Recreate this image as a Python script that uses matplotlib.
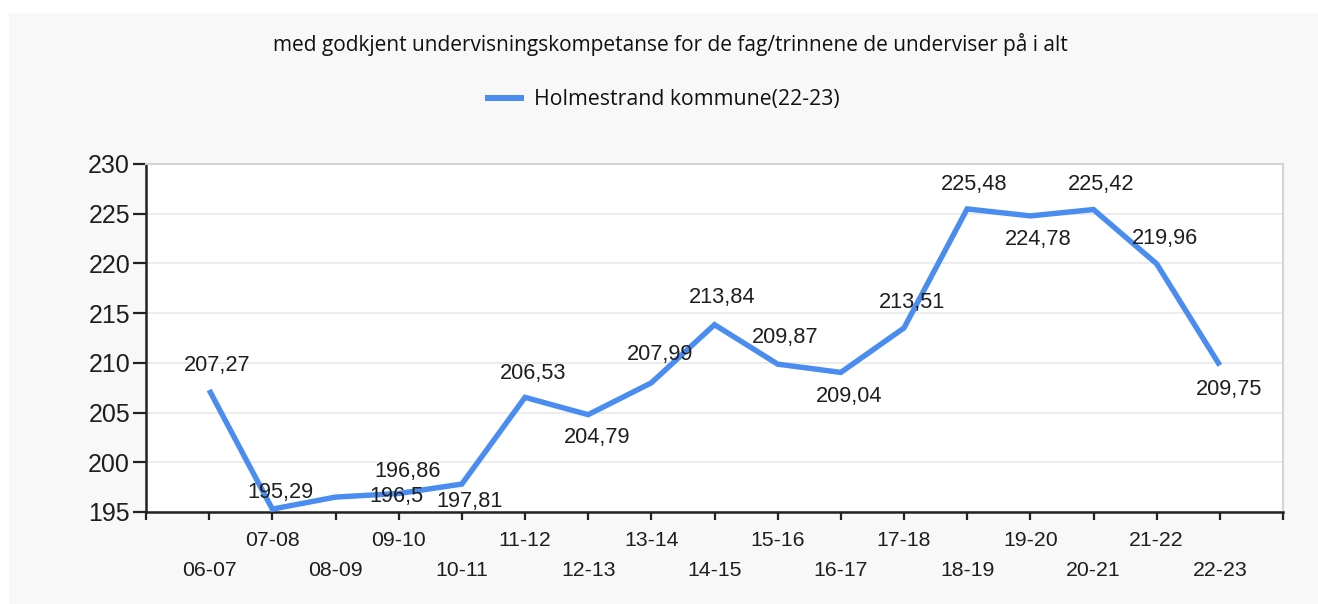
import matplotlib
matplotlib.use("Agg")
import matplotlib.pyplot as plt
from matplotlib.patches import Rectangle
import matplotlib.transforms as mtrans

# ---- data ----
categories = ["06-07", "07-08", "08-09", "09-10", "10-11", "11-12", "12-13",
              "13-14", "14-15", "15-16", "16-17", "17-18", "18-19", "19-20",
              "20-21", "21-22", "22-23"]
values = [207.27, 195.29, 196.5, 196.86, 197.81, 206.53, 204.79, 207.99,
          213.84, 209.87, 209.04, 213.51, 225.48, 224.78, 225.42, 219.96, 209.75]
value_labels = ["207,27", "195,29", "196,5", "196,86", "197,81", "206,53",
                "204,79", "207,99", "213,84", "209,87", "209,04", "213,51",
                "225,48", "224,78", "225,42", "219,96", "209,75"]
series_name = "Holmestrand kommune(22-23)"
title = "med godkjent undervisningskompetanse for de fag/trinnene de underviser på i alt"
yticks = [195, 200, 205, 210, 215, 220, 225, 230]

# label placement offsets in pixels (dx, dy) relative to each point
label_offsets = [(8, 25), (8, 17), (61, 1), (9, 22), (8, -17), (8, 24),
                 (9, -23), (9, 28), (8, 27), (8, 27), (8, -24), (8, 25),
                 (7, 24), (8, -24), (8, 25), (8, 25), (9, -24)]

line_color = "#4a8cf0"
text_color = "#1e1e1e"
W, H = 1318, 604

fig = plt.figure(figsize=(W / 100, H / 100), dpi=100, facecolor="white")
fig.patches.append(Rectangle((9 / W, 0), 1 - 9 / W, 1 - 13 / H,
                             transform=fig.transFigure, facecolor="#f8f8f8",
                             edgecolor="none", zorder=-10))

ax = fig.add_axes([146 / W, 1 - 512 / H, (1283 - 146) / W, (512 - 164) / H])
ax.set_facecolor("white")
x = list(range(len(categories)))
ax.plot(x, values, color=line_color, lw=3.9, solid_joinstyle="miter",
        solid_capstyle="butt", zorder=3, label=series_name)

ax.set_xlim(-1, len(categories))
ax.set_ylim(195, 230)
ax.set_yticks(yticks)
ax.set_yticklabels([str(v) for v in yticks], fontsize=18,
                   family="Liberation Sans", color=text_color)
ax.set_xticks(range(-1, len(categories) + 1))
ax.set_xticklabels([])
ax.tick_params(axis="y", length=9.5, width=1.6, color="#222222", pad=2)
ax.tick_params(axis="x", length=5.5, width=1.6, color="#222222")
ax.grid(axis="y", color="#e9e9e9", lw=1.2, zorder=0)
for s in ["left", "bottom"]:
    ax.spines[s].set_color("#222222")
    ax.spines[s].set_linewidth(1.8)
for s in ["top", "right"]:
    ax.spines[s].set_color("#d4d4d4")
    ax.spines[s].set_linewidth(1.5)

# category labels in two staggered rows
blend = mtrans.blended_transform_factory(ax.transData, ax.transAxes)
for i, c in enumerate(categories):
    dy = -28 if i % 2 == 1 else -59
    off = mtrans.ScaledTranslation(0, dy / 100, fig.dpi_scale_trans)
    ax.text(i, 0, c, transform=blend + off, ha="center", va="center",
            fontsize=15.3, family="Liberation Sans", color=text_color)

# value labels
for i, (v, lab) in enumerate(zip(values, value_labels)):
    dx, dy = label_offsets[i]
    ax.annotate(lab, (i, v), xytext=(dx * 0.72, dy * 0.72),
                textcoords="offset points", ha="center", va="center",
                fontsize=15.7, family="Liberation Sans", color=text_color,
                zorder=4, annotation_clip=False)

fig.text(670 / W, 1 - 45 / H, title, ha="center", va="center",
         fontsize=15, family="Open Sans", color="#111111")

leg = fig.legend(loc="center", bbox_to_anchor=(662 / W, 1 - 100 / H),
                 frameon=False, prop={"family": "Open Sans", "size": 15.3},
                 handlelength=1.85, handletextpad=0.45)
for t in leg.get_texts():
    t.set_color("#111111")
for l in leg.get_lines():
    l.set_linewidth(4.3)

fig.savefig("out.png", dpi=100, facecolor="white")
